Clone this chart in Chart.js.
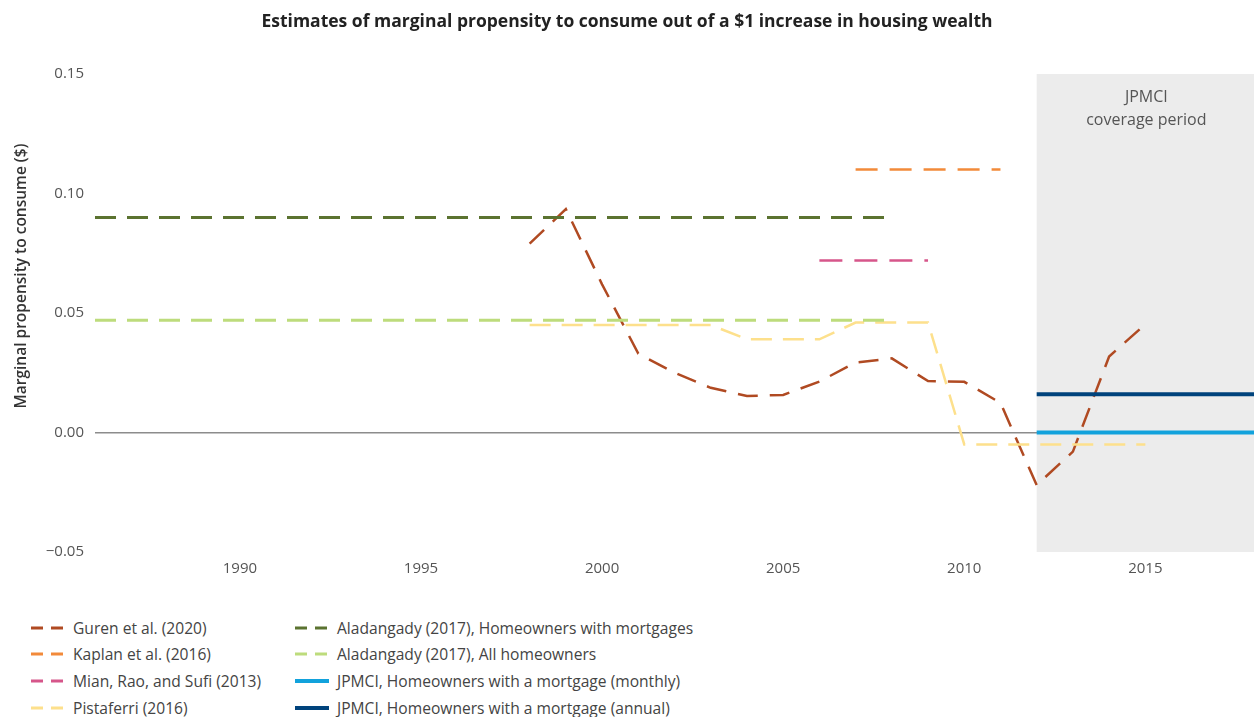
<!DOCTYPE html>
<html>
<head>
<meta charset="utf-8">
<script src="https://cdn.jsdelivr.net/npm/chart.js@4.4.1/dist/chart.umd.min.js"></script>
<style>
  html, body { margin: 0; padding: 0; background: #fff; }
  #wrap { position: relative; width: 1254px; height: 717px; font-family: "Open Sans", sans-serif; }
  #chart { position: absolute; left: 0; top: 0; }
  .leg { position: absolute; display: flex; align-items: center; height: 24px; font-size: 15.6px; color: #444; white-space: nowrap; }
  .leg svg { display: block; margin-right: 8px; }
</style>
</head>
<body>
<div id="wrap">
  <canvas id="chart" width="1254" height="590"></canvas>
  <div id="legend"></div>
</div>
<script>
// ---- Data ----
const xMin = 1986, xMax = 2018;
const xTicks = [1990, 1995, 2000, 2005, 2010, 2015];
const yTicks = [-0.05, 0, 0.05, 0.10, 0.15];
const coverageStart = 2012;

const gurenYears = [1998,1999,2000,2001,2002,2003,2004,2005,2006,2007,2008,2009,2010,2011,2012,2013,2014,2015];
const gurenMPC   = [0.079,0.0935,0.062,0.033,0.025,0.0187,0.0153,0.0157,0.0213,0.0293,0.031,0.0215,0.0212,0.0124,-0.022,-0.008,0.0318,0.0453];

const kaplanYears = [2007, 2011];
const kaplanMPC   = [0.11, 0.11];

const mianYears = [2006, 2009];
const mianMPC   = [0.072, 0.072];

const pistaferriYears = [1998,1999,2000,2001,2002,2003,2004,2005,2006,2007,2008,2009,2010,2011,2012,2013,2014,2015];
const pistaferriMPC   = [0.045,0.045,0.045,0.045,0.045,0.045,0.039,0.039,0.039,0.046,0.046,0.046,-0.005,-0.005,-0.005,-0.005,-0.005,-0.005];

const aladMortYears = [1986, 2008];
const aladMortMPC   = [0.09, 0.09];

const aladAllYears = [1986, 2008];
const aladAllMPC   = [0.047, 0.047];

const jpmMonthlyYears = [2012, 2018];
const jpmMonthlyMPC   = [0, 0];

const jpmAnnualYears = [2012, 2018];
const jpmAnnualMPC   = [0.016, 0.016];

const seriesNames = [
  "Guren et al. (2020)",
  "Kaplan et al. (2016)",
  "Mian, Rao, and Sufi (2013)",
  "Pistaferri (2016)",
  "Aladangady (2017), Homeowners with mortgages",
  "Aladangady (2017), All homeowners",
  "JPMCI, Homeowners with a mortgage (monthly)",
  "JPMCI, Homeowners with a mortgage (annual)"
];

// ---- Build ----
function pts(xs, ys) { return xs.map((x, i) => ({ x: x, y: ys[i] })); }

const styles = [
  { color: '#b04a22', width: 2.5, dash: [20, 12] },
  { color: '#f28a3a', width: 2.5, dash: [22, 12] },
  { color: '#d6568a', width: 2.5, dash: [23, 12] },
  { color: '#fde08c', width: 2.5, dash: [21, 11] },
  { color: '#5b7330', width: 3,   dash: [21, 11] },
  { color: '#bddc7c', width: 3,   dash: [21, 11] },
  { color: '#12a2dc', width: 4,   dash: [] },
  { color: '#00437c', width: 4,   dash: [] }
];
const dataPairs = [
  [gurenYears, gurenMPC],
  [kaplanYears, kaplanMPC],
  [mianYears, mianMPC],
  [pistaferriYears, pistaferriMPC],
  [aladMortYears, aladMortMPC],
  [aladAllYears, aladAllMPC],
  [jpmMonthlyYears, jpmMonthlyMPC],
  [jpmAnnualYears, jpmAnnualMPC]
];
const drawOrder = [5, 4, 6, 7, 3, 2, 1, 0];

const datasets = dataPairs.map((p, i) => ({
  label: seriesNames[i],
  data: pts(p[0], p[1]),
  borderColor: styles[i].color,
  backgroundColor: styles[i].color,
  borderWidth: styles[i].width,
  borderDash: styles[i].dash,
  borderCapStyle: 'butt',
  pointRadius: 0,
  tension: 0,
  fill: false,
  order: drawOrder.indexOf(i)
}));

const shadePlugin = {
  id: 'shade',
  beforeDraw(chart) {
    const { ctx, chartArea, scales } = chart;
    const x0 = scales.x.getPixelForValue(coverageStart);
    ctx.save();
    ctx.fillStyle = '#ececec';
    ctx.fillRect(x0, chartArea.top, chartArea.right - x0, chartArea.bottom - chartArea.top);
    ctx.fillStyle = '#555';
    ctx.font = '16px "Open Sans"';
    ctx.textAlign = 'center';
    ctx.textBaseline = 'middle';
    const cx = (x0 + chartArea.right) / 2 + 1;
    ctx.fillText('JPMCI', cx, 97);
    ctx.fillText('coverage period', cx, 120);
    ctx.restore();
  },
  afterDraw(chart) {
    const { ctx } = chart;
    ctx.save();
    ctx.translate(22, 276);
    ctx.rotate(-Math.PI / 2);
    ctx.fillStyle = '#333';
    ctx.font = '600 15.5px "Open Sans"';
    ctx.textAlign = 'center';
    ctx.textBaseline = 'middle';
    ctx.fillText('Marginal propensity to consume ($)', 0, 0);
    ctx.restore();
  }
};

Chart.defaults.font.family = '"Open Sans", sans-serif';

new Chart(document.getElementById('chart'), {
  type: 'line',
  data: { datasets: datasets },
  options: {
    responsive: false,
    animation: false,
    devicePixelRatio: 1,
    layout: { padding: { top: 0, right: 0, left: 0, bottom: 0 } },
    plugins: {
      legend: { display: false },
      tooltip: { enabled: false },
      title: {
        display: true,
        text: 'Estimates of marginal propensity to consume out of a $1 increase in housing wealth',
        color: '#222',
        font: { size: 17.5, weight: '700' },
        padding: { top: 12, bottom: 41 }
      }
    },
    scales: {
      x: {
        type: 'linear',
        min: xMin, max: xMax,
        border: { display: false },
        grid: { display: false, drawTicks: false },
        afterBuildTicks(scale) { scale.ticks = xTicks.map(v => ({ value: v })); },
        afterFit(scale) { scale.height = 38; },
        ticks: { color: '#555', font: { size: 15 }, padding: 8, callback: v => String(v) }
      },
      y: {
        type: 'linear',
        min: -0.05, max: 0.15,
        border: { display: false },
        grid: {
          drawTicks: false,
          color: ctx => (ctx.tick && Math.abs(ctx.tick.value) < 1e-9) ? '#8c8c8c' : 'rgba(0,0,0,0)',
          lineWidth: 1.5
        },
        afterBuildTicks(scale) { scale.ticks = yTicks.map(v => ({ value: v })); },
        afterFit(scale) { scale.width = 95; },
        ticks: {
          color: '#555', font: { size: 15 }, padding: 11,
          callback: v => (v < 0 ? '\u2212' + Math.abs(v).toFixed(2) : v.toFixed(2))
        },
        title: { display: false }
      }
    }
  },
  plugins: [shadePlugin]
});

// ---- HTML legend ----
const legendPos = [
  [31, 628], [31, 654], [31, 681], [31, 708],
  [295, 628], [295, 654], [295, 681], [295, 708]
];
const legendEl = document.getElementById('legend');
seriesNames.forEach((name, i) => {
  const s = styles[i];
  const d = document.createElement('div');
  d.className = 'leg';
  d.style.left = legendPos[i][0] + 'px';
  d.style.top = (legendPos[i][1] - 12) + 'px';
  const dash = s.dash.length ? 'stroke-dasharray="12 8"' : '';
  d.innerHTML = '<svg width="34" height="6"><line x1="0" y1="3" x2="34" y2="3" stroke="' + s.color +
    '" stroke-width="' + (s.dash.length ? 3 : 4) + '" ' + dash + '/></svg><span>' + name + '</span>';
  legendEl.appendChild(d);
});
</script>
</body>
</html>
